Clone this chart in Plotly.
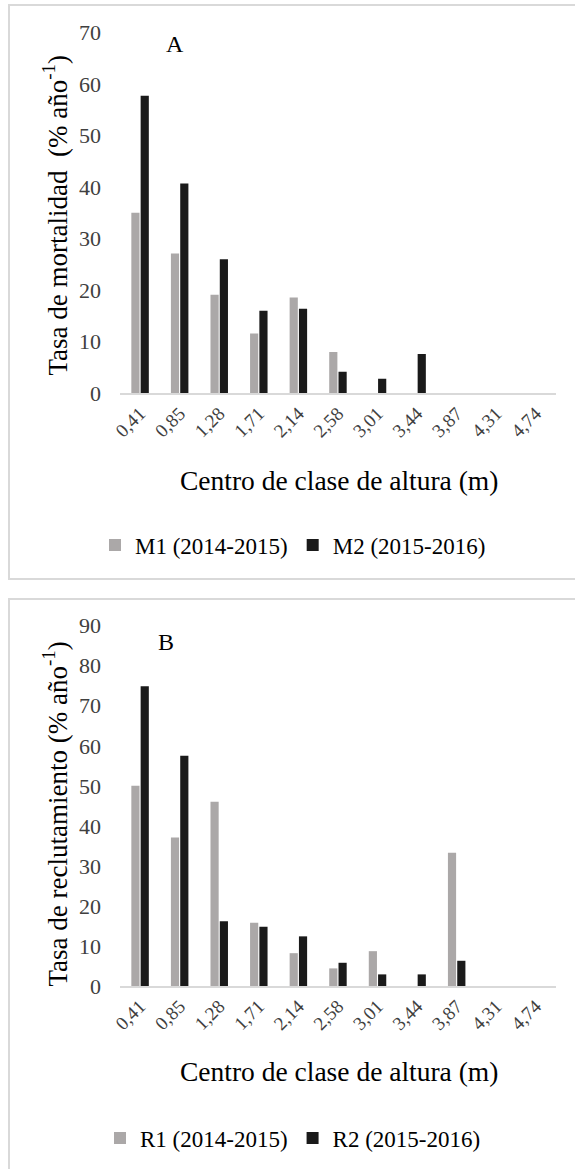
import plotly.graph_objects as go

# Height-class centres (m)
clases = ["0,41", "0,85", "1,28", "1,71", "2,14", "2,58", "3,01", "3,44", "3,87", "4,31", "4,74"]

# Mortality rate (% año-1)
m1 = [35.0, 27.1, 19.1, 11.6, 18.6, 8.0, 0, 0, 0, 0, 0]
m2 = [57.7, 40.7, 26.0, 16.0, 16.4, 4.2, 2.8, 7.6, 0, 0, 0]

# Recruitment rate (% año-1)
r1 = [50.0, 37.1, 46.0, 15.8, 8.2, 4.4, 8.7, 0, 33.3, 0, 0]
r2 = [74.9, 57.5, 16.2, 14.8, 12.4, 5.8, 2.9, 2.9, 6.3, 0, 0]

W, H = 575, 1169
GRAY = "#ABA8A8"
BLACK = "#1A1A1A"
FONT = "Liberation Serif"


def px_x(x):
    return x / W


def px_y(y):
    return 1 - y / H


fig = go.Figure()

fig.add_trace(go.Bar(x=clases, y=m1, name="M1 (2014-2015)", marker=dict(color=GRAY, line_width=0),
                     xaxis="x", yaxis="y", legend="legend"))
fig.add_trace(go.Bar(x=clases, y=m2, name="M2 (2015-2016)", marker=dict(color=BLACK, line_width=0),
                     xaxis="x", yaxis="y", legend="legend"))
fig.add_trace(go.Bar(x=clases, y=r1, name="R1 (2014-2015)", marker=dict(color=GRAY, line_width=0),
                     xaxis="x2", yaxis="y2", legend="legend2"))
fig.add_trace(go.Bar(x=clases, y=r2, name="R2 (2015-2016)", marker=dict(color=BLACK, line_width=0),
                     xaxis="x2", yaxis="y2", legend="legend2"))

xdom = [px_x(120.3), px_x(555.6)]

xaxis_style = dict(
    domain=xdom, type="category", showline=True, linecolor="#D9D9D9", linewidth=1.5,
    showgrid=False, zeroline=False, ticks="", automargin=False, tickangle=-45,
    tickfont=dict(family=FONT, size=19, color="#404040"),
)
# transparent outside ticks keep the value labels clear of the plot edge
yaxis_style = dict(
    showgrid=False, zeroline=False, showline=False, dtick=10, automargin=False,
    ticks="outside", ticklen=14, tickcolor="rgba(0,0,0,0)",
    tickfont=dict(family=FONT, size=22, color="#404040"),
)

legend_style = dict(
    orientation="h", xanchor="center", yanchor="middle", itemwidth=30,
    font=dict(family=FONT, size=23, color="#000000"), bgcolor="rgba(0,0,0,0)",
    itemclick=False, itemdoubleclick=False,
)

fig.update_layout(
    width=W, height=H, margin=dict(l=0, r=0, t=0, b=0, autoexpand=False),
    paper_bgcolor="white", plot_bgcolor="white",
    barmode="group", bargap=0.53, bargroupgap=0.12,
    xaxis=dict(anchor="y", **xaxis_style),
    yaxis=dict(anchor="x", domain=[px_y(393.3), px_y(32.3)], range=[0, 70], **yaxis_style),
    xaxis2=dict(anchor="y2", **xaxis_style),
    yaxis2=dict(anchor="x2", domain=[px_y(986), px_y(625.7)], range=[0, 90], **yaxis_style),
    legend=dict(x=px_x(293), y=px_y(545), **legend_style),
    legend2=dict(x=px_x(293), y=px_y(1138), **legend_style),
    showlegend=True,
)

# Panel frames
for top, bottom in [(5, 579), (599, 1190)]:
    fig.add_shape(type="rect", xref="paper", yref="paper",
                  x0=px_x(9), x1=px_x(600), y0=px_y(bottom), y1=px_y(top),
                  line=dict(color="#D9D9D9", width=2), fillcolor="rgba(0,0,0,0)", layer="below")

axis_title_font = dict(family=FONT, size=27.5, color="#000000")
y_title_font = dict(family=FONT, size=27, color="#000000")
letter_font = dict(family=FONT, size=24, color="#000000")
annotations = [
    dict(text="Centro de clase de altura (m)", x=px_x(339), y=px_y(480), font=axis_title_font),
    dict(text="Centro de clase de altura (m)", x=px_x(339), y=px_y(1071.7), font=axis_title_font),
    dict(text="Tasa de mortalidad\u00a0 (% año<sup>-1</sup>)", x=px_x(55), y=px_y(215.5),
         textangle=-90, font=y_title_font),
    dict(text="Tasa de reclutamiento (% año<sup>-1</sup>)", x=px_x(55), y=px_y(814.5),
         textangle=-90, font=y_title_font),
    dict(text="A", x=px_x(175), y=px_y(44), font=letter_font),
    dict(text="B", x=px_x(166), y=px_y(642), font=letter_font),
]
for a in annotations:
    fig.add_annotation(xref="paper", yref="paper", showarrow=False,
                       xanchor="center", yanchor="middle", **a)

fig.write_html("out.html")
